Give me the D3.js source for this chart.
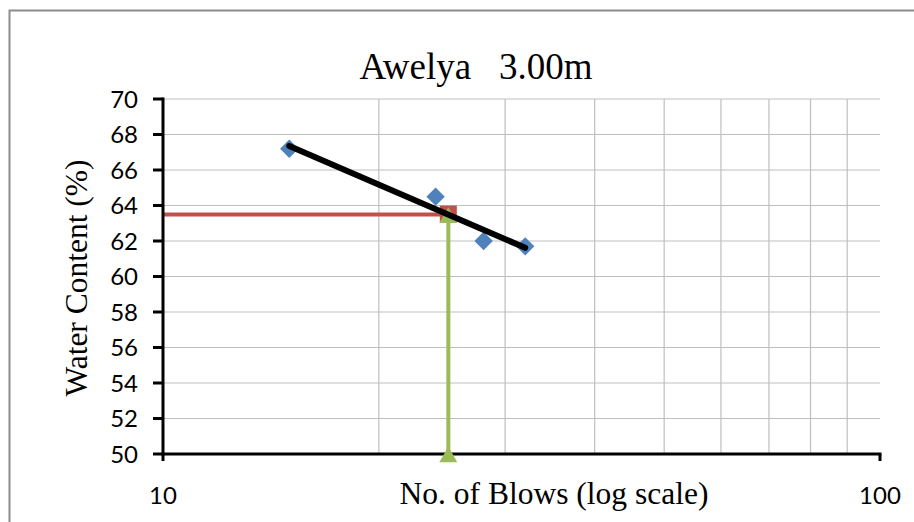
<!DOCTYPE html>
<html>
<head>
<meta charset="utf-8">
<script src="https://cdn.jsdelivr.net/npm/d3@7/dist/d3.min.js"></script>
<style>
  html, body { margin: 0; padding: 0; background: #fff; }
  svg { display: block; }
</style>
</head>
<body>
<script>
// ---- data ----
const title = "Awelya   3.00m";
const blows = [15, 24, 28, 32];
const waterContent = [67.2, 64.5, 62.0, 61.7];
const targetBlows = 25;
const yTickValues = [50, 52, 54, 56, 58, 60, 62, 64, 66, 68, 70];
const xTickLabels = [10, 100];
const xMinorGrid = [20, 30, 40, 50, 60, 70, 80, 90];
const xAxisTitle = "No. of Blows (log scale)";
const yAxisTitle = "Water Content (%)";

// ---- layout ----
const W = 914, H = 522;
const svg = d3.select("body").append("svg").attr("width", W).attr("height", H);

const x = d3.scaleLog().domain([10, 100]).range([163, 880]);
const y = d3.scaleLinear().domain([50, 70]).range([454, 99]);

// outer chart frame
svg.append("rect").attr("x", 9.5).attr("y", 10.5).attr("width", W + 20).attr("height", H + 20)
  .attr("fill", "none").attr("stroke", "#8c8c8c").attr("stroke-width", 2);

// title
svg.append("text").attr("x", 476).attr("y", 79).attr("text-anchor", "middle")
  .attr("font-family", "Liberation Serif, Times New Roman, serif").attr("font-size", 37)
  .attr("fill", "#000").style("white-space", "pre").text(title);

// gridlines
const grid = svg.append("g").attr("stroke", "#bfbfbf").attr("stroke-width", 1.2);
grid.selectAll("line.h").data(yTickValues.filter(v => v > 50)).join("line")
  .attr("x1", x(10)).attr("x2", x(100)).attr("y1", d => y(d)).attr("y2", d => y(d));
grid.selectAll("line.v").data(xMinorGrid).join("line")
  .attr("x1", d => x(d)).attr("x2", d => x(d)).attr("y1", y(70)).attr("y2", y(50));

// regression (log x) for flow curve
const lx = blows.map(b => Math.log10(b));
const mx = d3.mean(lx), my = d3.mean(waterContent);
const slope = d3.sum(lx.map((v, i) => (v - mx) * (waterContent[i] - my))) / d3.sum(lx.map(v => (v - mx) ** 2));
const fit = b => my + slope * (Math.log10(b) - mx);
const LL = fit(targetBlows);

// red horizontal line to LL
svg.append("line").attr("x1", x(10)).attr("x2", x(targetBlows)).attr("y1", y(LL)).attr("y2", y(LL))
  .attr("stroke", "#c0504d").attr("stroke-width", 4);
svg.append("rect").attr("x", x(targetBlows) - 8.5).attr("y", y(LL) - 9).attr("width", 17).attr("height", 17)
  .attr("fill", "#c0504d");

// green vertical line
svg.append("line").attr("x1", x(targetBlows)).attr("x2", x(targetBlows)).attr("y1", y(LL)).attr("y2", y(50))
  .attr("stroke", "#9bbb59").attr("stroke-width", 4);

// axes
const axes = svg.append("g").attr("stroke", "#000").attr("stroke-width", 3);
axes.append("line").attr("x1", x(10)).attr("x2", x(10)).attr("y1", y(70) - 1.5).attr("y2", y(50) + 1.5);
axes.append("line").attr("x1", x(10) - 1.5).attr("x2", x(100) + 1.5).attr("y1", y(50)).attr("y2", y(50));
axes.selectAll("line.yt").data(yTickValues).join("line")
  .attr("x1", x(10) - 10).attr("x2", x(10)).attr("y1", d => y(d)).attr("y2", d => y(d));
axes.selectAll("line.xt").data(xTickLabels).join("line")
  .attr("x1", d => x(d)).attr("x2", d => x(d)).attr("y1", y(50)).attr("y2", y(50) + 7);

// green triangles
const tri = d3.symbol().type(d3.symbolTriangle).size(140);
svg.selectAll("path.tri").data([LL, 50]).join("path")
  .attr("d", tri).attr("transform", d => `translate(${x(targetBlows)},${y(d) + 3})`)
  .attr("fill", "#9bbb59");

// blue diamonds
svg.selectAll("rect.pt").data(blows).join("rect")
  .attr("x", -6.5).attr("y", -6.5).attr("width", 13).attr("height", 13)
  .attr("transform", (d, i) => `translate(${x(d)},${y(waterContent[i])}) rotate(45)`)
  .attr("fill", "#4f81bd");

// trendline
svg.append("line")
  .attr("x1", x(d3.min(blows))).attr("y1", y(fit(d3.min(blows))))
  .attr("x2", x(d3.max(blows))).attr("y2", y(fit(d3.max(blows))))
  .attr("stroke", "#000").attr("stroke-width", 6).attr("stroke-linecap", "round");

// tick labels
const sans = "Lato, Open Sans, sans-serif";
svg.selectAll("text.yl").data(yTickValues).join("text")
  .attr("x", 138).attr("y", d => y(d) + 8.5).attr("text-anchor", "end")
  .attr("font-family", sans).attr("font-size", 24).attr("fill", "#000").text(d => d);
svg.selectAll("text.xl").data(xTickLabels).join("text")
  .attr("x", d => x(d)).attr("y", 504).attr("text-anchor", "middle")
  .attr("font-family", sans).attr("font-size", 24).attr("fill", "#000").text(d => d);

// axis titles
svg.append("text").attr("x", 554).attr("y", 504).attr("text-anchor", "middle")
  .attr("font-family", "Liberation Serif, Times New Roman, serif").attr("font-size", 31.5)
  .attr("fill", "#000").text(xAxisTitle);
svg.append("text").attr("transform", "translate(87,278) rotate(-90)").attr("text-anchor", "middle")
  .attr("font-family", "Liberation Serif, Times New Roman, serif").attr("font-size", 31.5)
  .attr("fill", "#000").text(yAxisTitle);
</script>
</body>
</html>
